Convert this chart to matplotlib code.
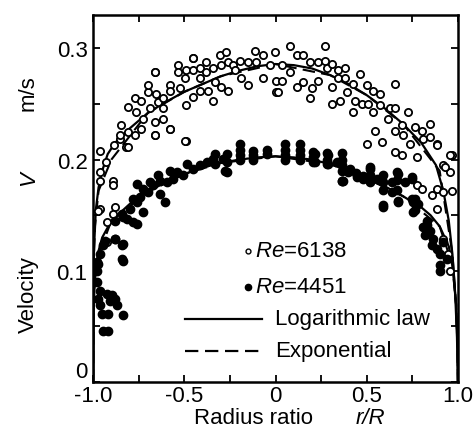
import matplotlib
matplotlib.use("Agg")
import matplotlib.pyplot as plt

plt.rcParams['font.family'] = ['Liberation Sans', 'DejaVu Sans']
plt.rcParams['mathtext.fontset'] = 'custom'
plt.rcParams['mathtext.it'] = 'Liberation Sans:italic'
plt.rcParams['mathtext.rm'] = 'Liberation Sans'

# Re=6138 (open circles)
x_6138 = [-0.96, -0.93, -0.887, -0.854, -0.845, -0.817, -0.808, -0.808, -0.772, -0.772,
          -0.763, -0.735, -0.735, -0.726, -0.699, -0.699, -0.69, -0.662, -0.662, -0.662,
          -0.653, -0.644, -0.616, -0.616, -0.616, -0.58, -0.58, -0.58, -0.534, -0.534,
          -0.525, -0.498, -0.489, -0.489, -0.489, -0.452, -0.452, -0.452, -0.415, -0.415,
          -0.415, -0.379, -0.379, -0.37, -0.342, -0.342, -0.333, -0.306, -0.297, -0.297,
          -0.27, -0.26, -0.26, -0.233, -0.224, -0.196, -0.187, -0.151, -0.151, -0.114,
          -0.105, -0.068, -0.068, -0.032, -0.004, 0.004, 0.004,
          0.015, 0.034, 0.034, 0.079, 0.079, 0.116, 0.116, 0.152, 0.152, 0.189,
          0.189, 0.198, 0.235, 0.235, 0.271, 0.271, 0.28, 0.308, 0.308, 0.308,
          0.344, 0.344, 0.353, 0.381, 0.381, 0.39, 0.426, 0.426, 0.436, 0.463,
          0.472, 0.5, 0.509, 0.536, 0.536, 0.573, 0.573, 0.618, 0.627, 0.655,
          0.655, 0.655, 0.692, 0.7, 0.728, 0.737, 0.764, 0.774, 0.801, 0.81,
          0.847, 0.847, 0.883, 0.5, 0.545, 0.582, 0.655, 0.692, 0.965,
          0.883, 0.92, 0.956, 0.956, 0.883, 0.856, 0.92, 0.965, 0.883, 0.929,
          0.774, 0.801, 0.947, 0.956, 0.92,
          -0.962, -0.962, -0.889, -0.889, -0.879, -0.962, -0.852, -0.807, -0.66, -0.578,
          -0.496, -0.45, -0.66, -0.925, -0.889, -0.925, -0.971]
y_6138 = [0.208, 0.198, 0.213, 0.219, 0.231, 0.211, 0.225, 0.247, 0.222, 0.255,
          0.243, 0.253, 0.228, 0.237, 0.261, 0.267, 0.246, 0.279, 0.234, 0.222,
          0.259, 0.252, 0.255, 0.246, 0.237, 0.267, 0.262, 0.228, 0.285, 0.279,
          0.264, 0.273, 0.249, 0.217, 0.281, 0.291, 0.281, 0.256, 0.282, 0.273,
          0.262, 0.288, 0.279, 0.262, 0.282, 0.253, 0.27, 0.294, 0.285, 0.265,
          0.297, 0.288, 0.262, 0.285, 0.281, 0.289, 0.273, 0.288, 0.267, 0.298,
          0.288, 0.294, 0.273, 0.285, 0.297, 0.271, 0.261,
          0.261, 0.285, 0.271, 0.302, 0.279, 0.294, 0.265, 0.294, 0.27, 0.288,
          0.255, 0.264, 0.288, 0.271, 0.302, 0.289, 0.282, 0.286, 0.265, 0.25,
          0.281, 0.273, 0.253, 0.282, 0.273, 0.261, 0.268, 0.243, 0.253, 0.277,
          0.25, 0.267, 0.25, 0.262, 0.243, 0.259, 0.249, 0.237, 0.246, 0.268,
          0.246, 0.226, 0.231, 0.222, 0.243, 0.214, 0.229, 0.202, 0.226, 0.219,
          0.232, 0.22, 0.214, 0.214, 0.226, 0.216, 0.207, 0.204, 0.204,
          0.213, 0.195, 0.204, 0.189, 0.174, 0.168, 0.171, 0.172, 0.156, 0.193,
          0.177, 0.174, 0.115, 0.1, 0.129,
          0.189, 0.181, 0.181, 0.177, 0.157, 0.156, 0.222, 0.211, 0.222, 0.228,
          0.217, 0.291, 0.279, 0.144, 0.151, 0.126, 0.154]

# Re=4451 (filled circles)
x_4451 = [-0.195, -0.195, -0.195, -0.195, -0.123, -0.123, -0.123, -0.048, -0.048,
          0.052, 0.052, 0.052, 0.052, 0.134, 0.134, 0.134, 0.134, 0.207, 0.207, 0.207,
          0.28, 0.28, 0.28, 0.363, 0.363, 0.363, 0.363, 0.363, -0.267, -0.267, -0.267,
          -0.33, -0.33,
          -0.286, -0.277, -0.341, -0.377, -0.414, -0.45, -0.487, -0.505, -0.541, -0.56,
          -0.578, -0.596, -0.633, -0.642, -0.67, -0.688, -0.697, -0.724, -0.742, -0.761,
          -0.605, -0.633, -0.724, -0.761, -0.779, -0.797, -0.834, -0.761, -0.779, -0.815,
          -0.843, -0.879, -0.879, -0.843, -0.843, -0.934, -0.943, -0.962, -0.971, -0.98,
          -0.834, -0.834, -0.879, -0.98, -0.962, -0.925, -0.897, -0.879, -0.87, -0.907,
          -0.962, -0.952, -0.916, -0.834, -0.943, -0.916, -0.971, -0.98,
          0.216, 0.216, 0.29, 0.29, 0.372, 0.41, 0.44, 0.48, 0.518, 0.518, 0.518,
          0.59, 0.59, 0.59, 0.664, 0.664, 0.664, 0.746, 0.746, 0.59, 0.673, 0.764, 0.764,
          0.335, 0.363, 0.399, 0.445, 0.481, 0.518, 0.555, 0.59, 0.637, 0.637, 0.673,
          0.673, 0.71, 0.746, 0.755, 0.755, 0.782, 0.828, 0.81, 0.819, 0.847, 0.865,
          0.856, 0.883, 0.901, 0.901, 0.901, 0.938, 0.92, 0.828]
y_4451 = [0.214, 0.209, 0.204, 0.2, 0.208, 0.204, 0.2, 0.209, 0.205,
          0.214, 0.209, 0.204, 0.2, 0.214, 0.209, 0.204, 0.2, 0.207, 0.202, 0.198,
          0.206, 0.2, 0.196, 0.206, 0.2, 0.195, 0.19, 0.181, 0.205, 0.198, 0.189,
          0.205, 0.196,
          0.201, 0.19, 0.201, 0.198, 0.195, 0.192, 0.196, 0.186, 0.189, 0.183,
          0.19, 0.18, 0.181, 0.186, 0.177, 0.18, 0.171, 0.174, 0.166, 0.178,
          0.162, 0.169, 0.153, 0.162, 0.165, 0.156, 0.148, 0.142, 0.144, 0.147,
          0.151, 0.145, 0.129, 0.123, 0.111, 0.127, 0.123, 0.115, 0.106, 0.1,
          0.124, 0.109, 0.129, 0.09, 0.082, 0.079, 0.078, 0.075, 0.069, 0.073,
          0.069, 0.061, 0.061, 0.06, 0.046, 0.046, 0.075, 0.108,
          0.205, 0.198, 0.204, 0.196, 0.181, 0.192, 0.188, 0.185, 0.193, 0.186, 0.18,
          0.186, 0.18, 0.173, 0.189, 0.182, 0.173, 0.183, 0.165, 0.157, 0.163, 0.165, 0.155,
          0.198, 0.181, 0.189, 0.184, 0.183, 0.192, 0.183, 0.159, 0.18, 0.171, 0.187,
          0.162, 0.18, 0.184, 0.162, 0.153, 0.16, 0.145, 0.139, 0.132, 0.136, 0.129,
          0.123, 0.12, 0.115, 0.105, 0.1, 0.111, 0.126, 0.141]

# Logarithmic law curves
x_log_hi = [-1.0, -0.995, -0.985, -0.97, -0.95, -0.92, -0.88, -0.8, -0.7, -0.6, -0.5,
            -0.4, -0.3, -0.2, -0.1, 0.0, 0.1, 0.2, 0.3, 0.4, 0.5, 0.6, 0.7, 0.8, 0.88,
            0.92, 0.95, 0.97, 0.985, 0.995, 1.0]
y_log_hi = [0.0, 0.12, 0.155, 0.175, 0.19, 0.205, 0.215, 0.228, 0.242, 0.252, 0.261,
            0.268, 0.275, 0.28, 0.284, 0.286, 0.285, 0.282, 0.276, 0.268, 0.258, 0.246,
            0.232, 0.215, 0.195, 0.172, 0.145, 0.115, 0.08, 0.04, 0.0]
x_log_lo = [-1.0, -0.998, -0.99, -0.97, -0.95, -0.9, -0.8, -0.7, -0.6, -0.5, -0.4,
            -0.3, -0.2, -0.1, 0.0, 0.1, 0.2, 0.3, 0.4, 0.5, 0.6, 0.7, 0.8, 0.85, 0.9,
            0.95, 0.97, 0.99, 0.998, 1.0]
y_log_lo = [0.0, 0.06, 0.095, 0.118, 0.13, 0.145, 0.16, 0.171, 0.18, 0.187, 0.193,
            0.197, 0.2, 0.202, 0.203, 0.202, 0.2, 0.196, 0.19, 0.183, 0.176, 0.167,
            0.157, 0.15, 0.14, 0.122, 0.105, 0.07, 0.035, 0.0]

# Exponential curves (hidden under the log-law lines in the picture)
x_exp_hi = [-1.0, -0.998, -0.99, -0.97, -0.9, -0.7, -0.5, -0.3, 0.0, 0.3, 0.5, 0.7,
            0.9, 0.97, 0.99, 0.998, 1.0]
y_exp_hi = [0.0, 0.1, 0.14, 0.172, 0.2, 0.242, 0.261, 0.275, 0.286, 0.276, 0.258,
            0.232, 0.19, 0.115, 0.07, 0.03, 0.0]
x_exp_lo = [-1.0, -0.999, -0.995, -0.98, -0.9, -0.7, -0.5, -0.3, 0.0, 0.3, 0.5, 0.7,
            0.9, 0.97, 0.99, 0.999, 1.0]
y_exp_lo = [0.0, 0.05, 0.08, 0.11, 0.145, 0.171, 0.187, 0.197, 0.203, 0.196, 0.183,
            0.167, 0.14, 0.105, 0.07, 0.03, 0.0]

fig = plt.figure(figsize=(4.75, 4.35), dpi=100)
ax = fig.add_axes([0.196, 0.1195, 0.768, 0.8435])

ax.plot(x_exp_hi, y_exp_hi, color='black', lw=1.5, ls=(0, (6, 3)))
ax.plot(x_exp_lo, y_exp_lo, color='black', lw=1.5, ls=(0, (6, 3)))
ax.plot(x_log_hi, y_log_hi, color='black', lw=1.6)
ax.plot(x_log_lo, y_log_lo, color='black', lw=1.6)

ax.plot(x_6138, y_6138, ls='none', marker='o', ms=5.2, mfc='white', mec='black', mew=1.3)
ax.plot(x_4451, y_4451, ls='none', marker='o', ms=6, mfc='black', mec='black')

ax.set_xlim(-1.0, 1.0)
ax.set_ylim(0, 0.33)
ax.set_xticks([-1.0, -0.5, 0, 0.5, 1.0])
ax.set_xticklabels(['-1.0', '-0.5', '0', '0.5', '1.0'])
ax.set_xticks([-0.75, -0.25, 0.25, 0.75], minor=True)
ax.set_yticks([0, 0.1, 0.2, 0.3])
ax.set_yticklabels(['0', '0.1', '0.2', '0.3'])
ax.set_yticks([0.05, 0.15, 0.25], minor=True)
ax.tick_params(which='both', direction='in', length=5, width=1.3, top=True, right=True,
               labelsize=16, pad=4)
ax.tick_params(axis='x', pad=2)
# the "0" on the y axis sits a little above its tick in the original
ax.get_yticklabels()[0].set_va('bottom')
for s in ax.spines.values():
    s.set_linewidth(1.8)

# axis labels
fig.text(0.06, 0.322, 'Velocity', rotation=90, fontsize=16, ha='center', va='center')
fig.text(0.06, 0.59, 'V', rotation=90, fontsize=16, ha='center', va='center', style='italic')
fig.text(0.06, 0.786, 'm/s', rotation=90, fontsize=16, ha='center', va='center')
fig.text(0.533, 0.038, 'Radius ratio', fontsize=16, ha='center', va='center')
fig.text(0.78, 0.038, 'r/R', fontsize=16, ha='center', va='center', style='italic')

# legend drawn by hand
tr = ax.transAxes
ax.plot([0.425], [0.358], transform=tr, marker='o', ms=3.5, mfc='white', mec='black', mew=1.0, ls='none')
ax.text(0.445, 0.358, '$\\mathit{Re}$=6138', transform=tr, fontsize=16, va='center')
ax.plot([0.425], [0.26], transform=tr, marker='o', ms=4.5, mfc='black', mec='black', ls='none')
ax.text(0.445, 0.26, '$\\mathit{Re}$=4451', transform=tr, fontsize=16, va='center')
ax.plot([0.252, 0.464], [0.172, 0.172], transform=tr, color='black', lw=1.6)
ax.text(0.498, 0.172, 'Logarithmic law', transform=tr, fontsize=16, va='center')
ax.plot([0.252, 0.464], [0.085, 0.085], transform=tr, color='black', lw=1.6, ls=(0, (6, 3)))
ax.text(0.498, 0.085, 'Exponential', transform=tr, fontsize=16, va='center')

fig.savefig('out.png', dpi=100)
